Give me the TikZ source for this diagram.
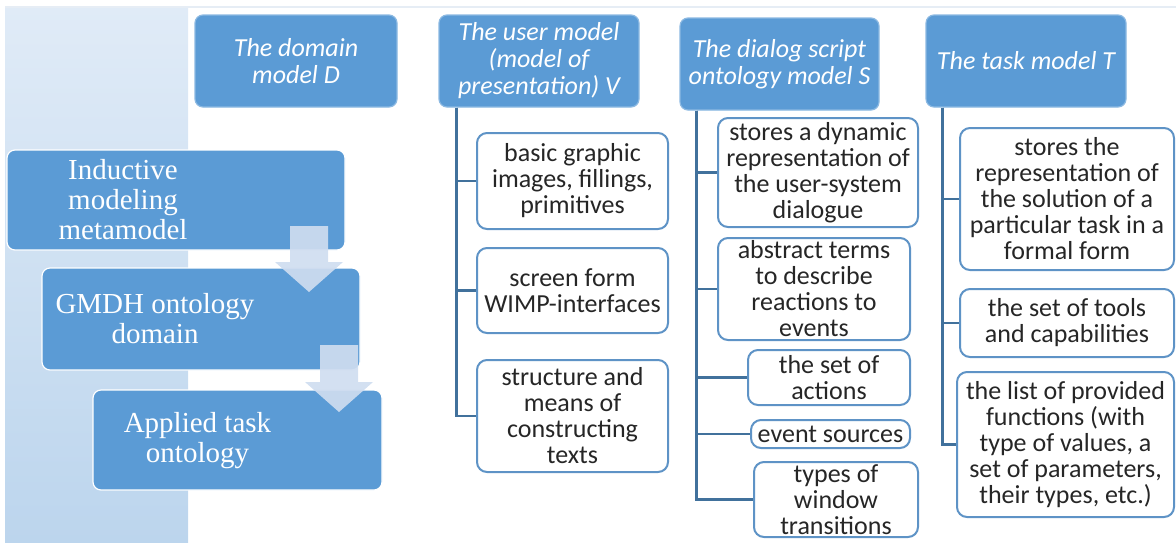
\documentclass[tikz,border=0pt]{standalone}
\usepackage{fontspec}
\setmainfont{Carlito}
\newfontfamily\stagefont{Liberation Serif}
\usetikzlibrary{positioning}
\definecolor{headblue}{HTML}{5B9BD5}
\definecolor{lineblue}{HTML}{41719C}
\definecolor{leafline}{HTML}{5E93C6}
\definecolor{striptop}{HTML}{E0EBF7}
\definecolor{stripbot}{HTML}{BCD5ED}
\definecolor{arrowfill}{HTML}{CFDDF0}
\definecolor{leaftext}{HTML}{262626}

\begin{document}
\begin{tikzpicture}[x=0.5pt, y=-0.5pt, font=\fontsize{13}{13}\selectfont,
  header/.style={rectangle, rounded corners=4pt, draw=headblue!70!white, line width=0.6pt, fill=headblue,
    text=white, font=\fontsize{13}{13.5}\selectfont\itshape, align=center,
    minimum width=100pt, minimum height=46pt, inner sep=1pt},
  leaf/.style={rectangle, rounded corners=5pt, draw=leafline, line width=1pt, fill=white,
    text=leaftext, align=center, inner sep=1pt},
  stage/.style={rectangle, rounded corners=4pt, draw=white, line width=0.6pt, fill=headblue,
    minimum height=50pt},
  stage text/.style={text=white, align=center, inner sep=0pt,
    font=\stagefont\fontsize{14.5}{15}\selectfont},
  tree/.style={draw=lineblue, line width=1.3pt},
  down/.style={fill=arrowfill, opacity=0.92},
  ]

  \useasboundingbox (0,0) rectangle (1176,542);
  % background strip and top rule
  \shade[top color=striptop, bottom color=stripbot] (5,7) rectangle (188,542);
  \draw[striptop!80!lineblue!40, line width=0.8pt] (5,7) -- (1176,7);

  % left: the three stages
  \node (inductive) [stage, minimum width=169pt] at (176,200) {};
  \node (gmdh) [stage, minimum width=159pt, minimum height=51pt] at (201,319) {};
  \node (applied) [stage, minimum width=144.5pt] at (237.5,440) {};
  \node [stage text] at ([xshift=-26.5pt]inductive.center) {Inductive\\modeling\\metamodel};
  \node [stage text] at ([xshift=-23pt]gmdh.center) {GMDH ontology\\domain};
  \node [stage text] at ([xshift=-20pt, yshift=-0.5pt]applied.center) {Applied task\\ontology};
  \fill[down] (290,226) -- (328,226) -- (328,262) -- (343,262) -- (309,292)
    -- (275,262) -- (290,262) -- cycle;
  \fill[down] (320,345) -- (358,345) -- (358,382) -- (373,382) -- (339,412)
    -- (305,382) -- (320,382) -- cycle;

  % column heads
  \node (domain) [header, minimum width=101pt] at (296,61) {The domain\\model D};
  \node (user) [header] at (539,61) {The user model\\(model of\\presentation) V};
  \node (dialog) [header, minimum width=99.5pt] at (779.5,64) {The dialog script\\ontology model S};
  \node (task) [header] at (1026,61) {The task model T};

  % user model
  \node (graphics) [leaf, minimum width=95.5pt, minimum height=48pt] at (572.5,181)
    {basic graphic\\images, fillings,\\primitives};
  \node (screen form) [leaf, minimum width=95.5pt, minimum height=42.5pt] at (572.5,290.5)
    {screen form\\WIMP-interfaces};
  \node (texts) [leaf, minimum width=95.5pt, minimum height=56pt] at (572.5,416)
    {structure and\\means of\\constructing\\texts};

  % dialog script
  \node (dynamic) [leaf, minimum width=100pt, minimum height=54.5pt] at (818,172.5)
    {stores a dynamic\\representation of\\the user-system\\dialogue};
  \node (abstract terms) [leaf, minimum width=96pt, minimum height=51pt] at (814,289)
    {abstract terms\\to describe\\reactions to\\events};
  \node (actions) [leaf, minimum width=81pt, minimum height=27.5pt] at (829,377.5)
    {the set of\\actions};
  \node (event sources) [leaf, minimum width=79.5pt, minimum height=14pt] at (830.5,434)
    {event sources};
  \node (transitions) [leaf, minimum width=82pt, minimum height=37.5pt] at (836,499.5)
    {types of\\window\\transitions};

  % task model
  \node (solution) [leaf, minimum width=107pt, minimum height=71pt] at (1067,199)
    {stores the\\representation of\\the solution of a\\particular task in a\\formal form};
  \node (tools) [leaf, minimum width=107pt, minimum height=34pt] at (1067,323)
    {the set of tools\\and capabilities};
  \node (functions) [leaf, minimum width=108.5pt, minimum height=72.5pt] at (1065.5,444.5)
    {the list of provided\\functions (with\\type of values, a\\set of parameters,\\their types, etc.)};

  % tree edges:
  \foreach \child in {graphics, screen form, texts}
    \path[tree] ([xshift=9pt]user.south west) |- (\child.west);
  \foreach \child in {dynamic, abstract terms, actions, event sources, transitions}
    \path[tree] ([xshift=8.5pt]dialog.south west) |- (\child.west);
  \foreach \child in {solution, tools, functions}
    \path[tree] ([xshift=8.5pt]task.south west) |- (\child.west);
\end{tikzpicture}
\end{document}
